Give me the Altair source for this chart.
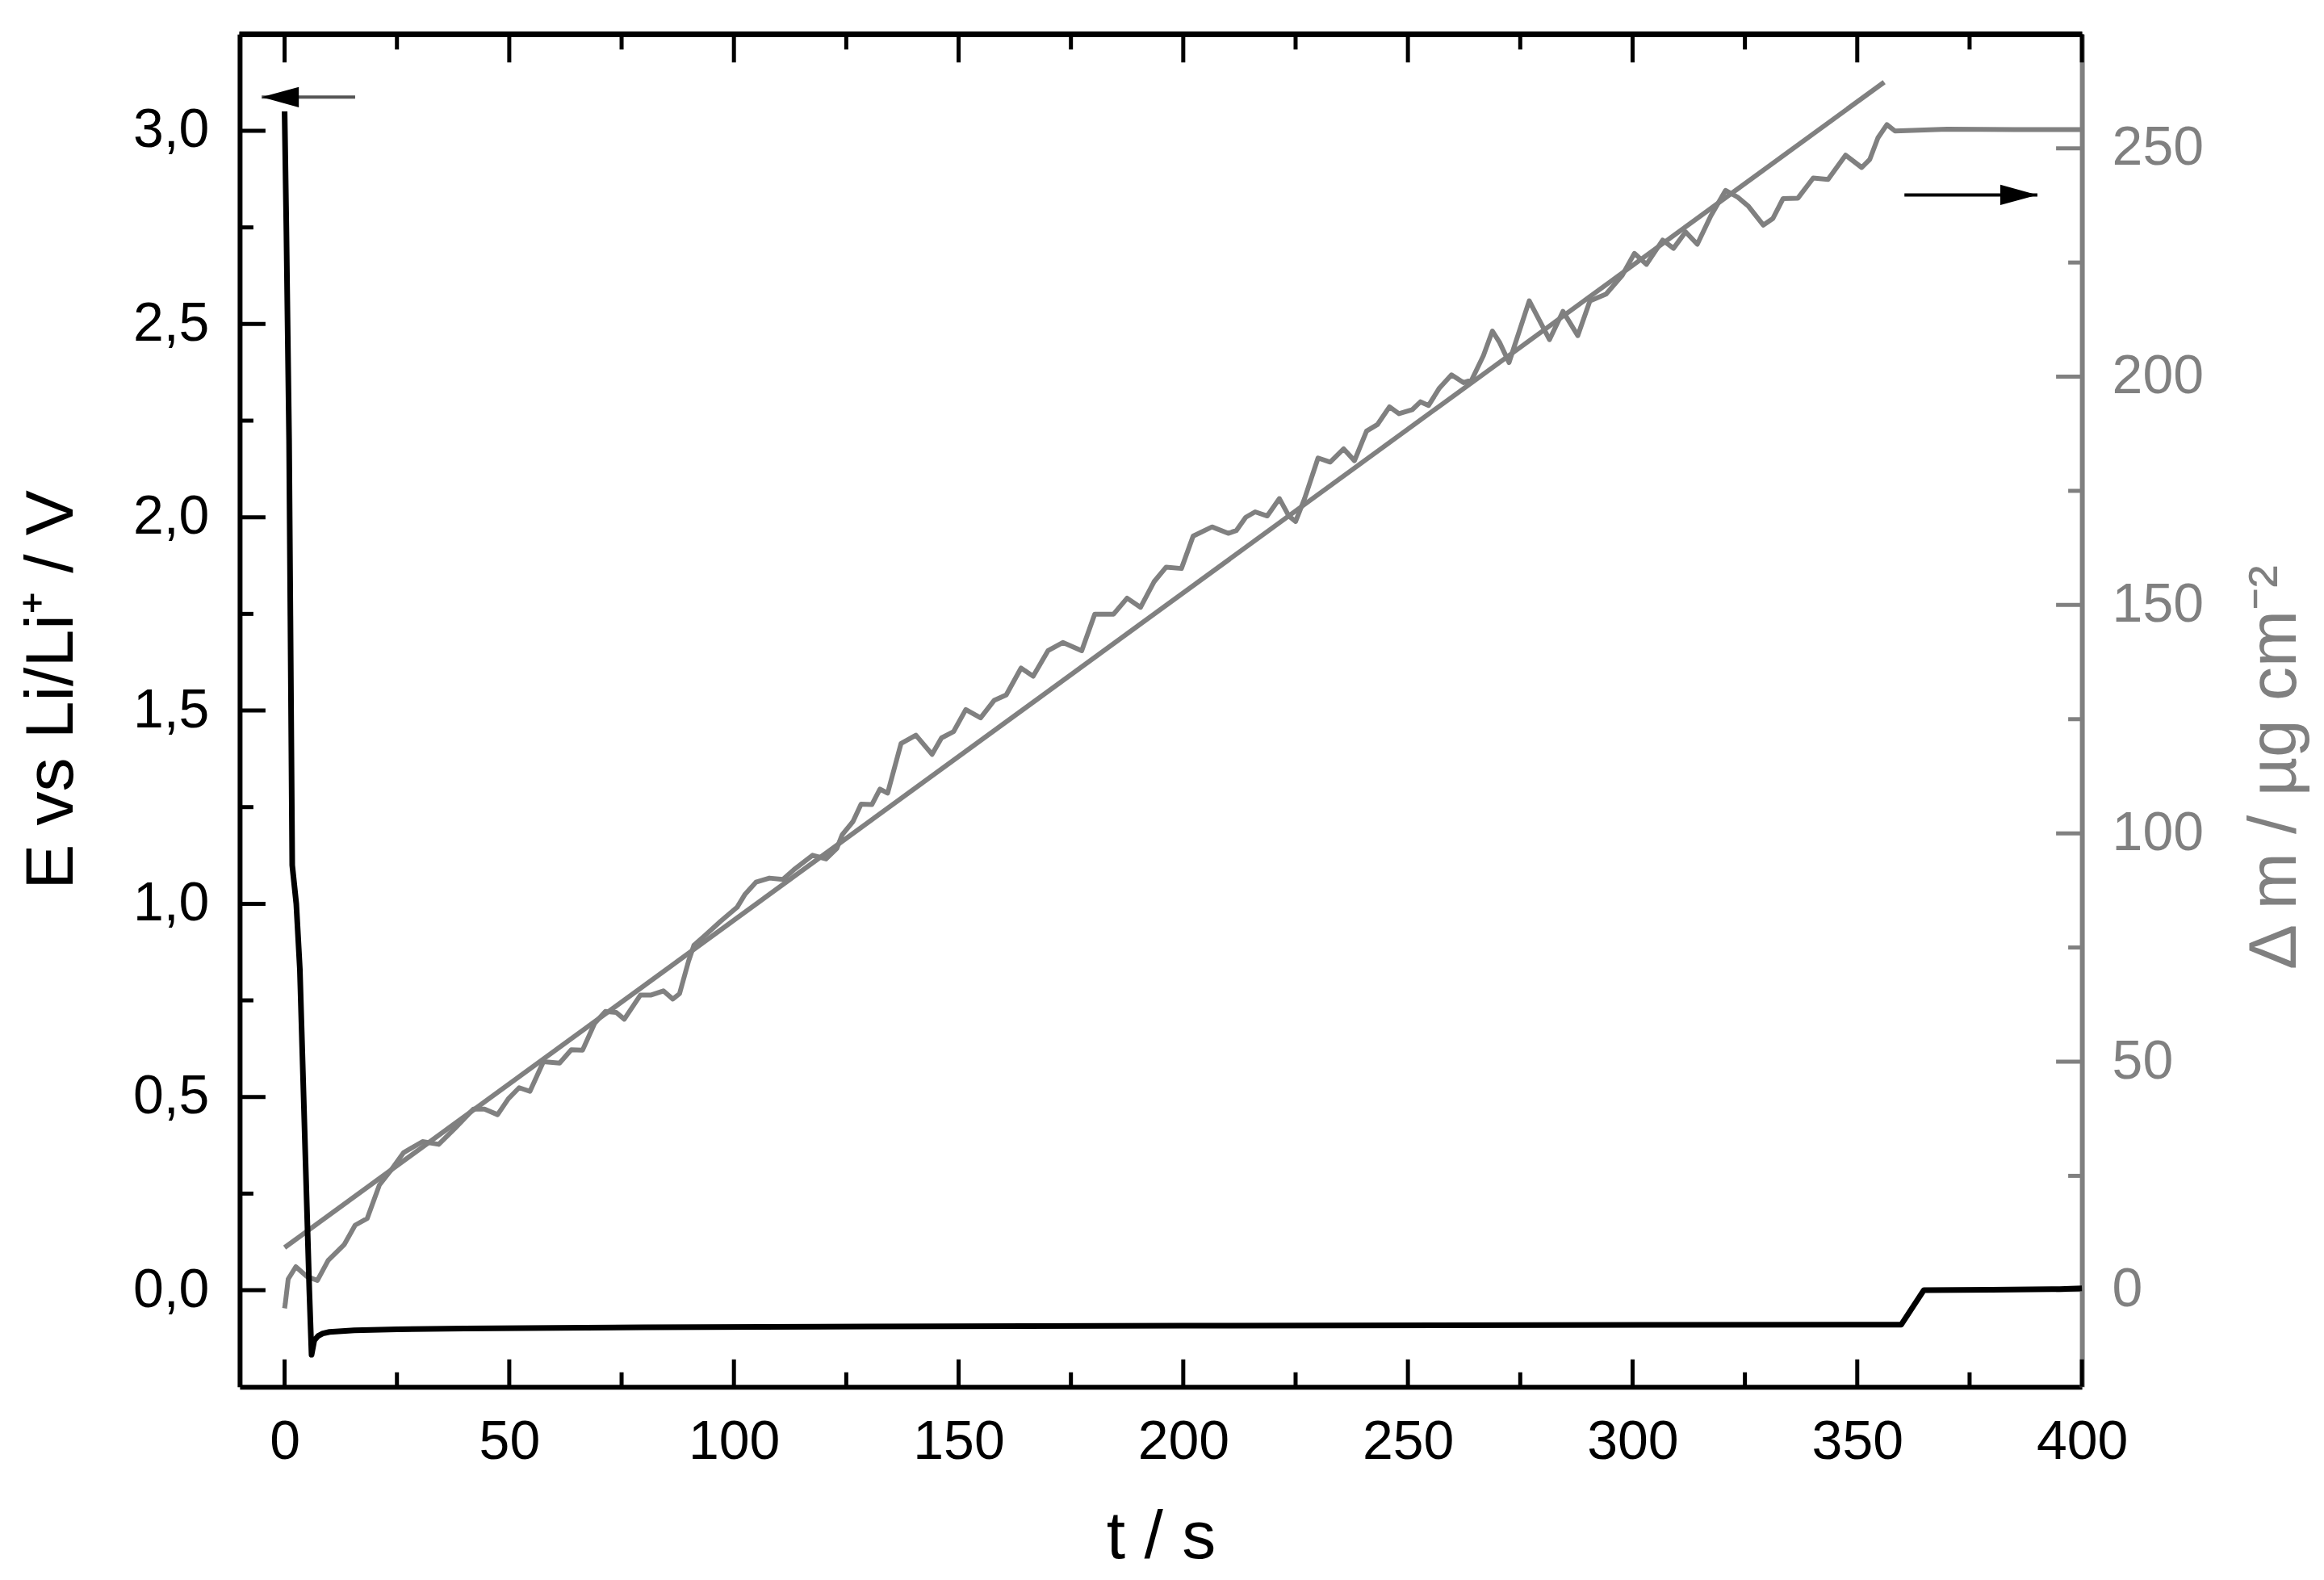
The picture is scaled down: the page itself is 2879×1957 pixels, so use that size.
import altair as alt
import pandas as pd

# ---------------- data ----------------
# potential E vs Li/Li+ (black, left axis)
E_T = [0.0, 0.4, 1.0, 1.7, 2.6, 3.4, 5.5, 6.0, 6.6, 7.5, 8.5, 10.0, 15.5, 25.0,
       40.0, 80.0, 130.0, 200.0, 280.0, 359.8, 364.8, 380.0, 395.0, 400.0]
E_V = [3.05, 2.74, 2.2, 1.1, 1.0, 0.83, 0.0, -0.167, -0.13, -0.118, -0.112, -0.108,
       -0.104, -0.101, -0.099, -0.096, -0.094, -0.092, -0.09, -0.089, 0.0, 0.001,
       0.003, 0.005]

# mass change (grey, right axis)
M_T = [0.0, 0.15, 0.8, 2.5, 4.9, 7.3, 9.7, 13.3, 15.7, 18.4,
       21.1, 23.5, 26.5, 30.7, 34.3, 37.9, 42.0, 44.5, 47.4, 49.8,
       52.2, 54.6, 57.6, 61.2, 63.8, 66.3, 69.0, 71.4, 73.8, 75.6,
       79.2, 81.6, 84.3, 86.4, 87.9, 89.9, 91.1, 93.5, 97.1, 100.7,
       102.5, 104.9, 107.9, 110.9, 113.3, 117.5, 120.5, 122.9, 124.1, 126.5,
       128.3, 130.7, 132.5, 134.2, 137.2, 140.5, 144.1, 146.2, 148.9, 151.6,
       154.9, 157.9, 160.6, 163.9, 166.6, 169.9, 173.2, 177.4, 180.3, 184.5,
       187.5, 190.5, 193.5, 196.2, 199.6, 202.2, 206.4, 210.0, 211.8, 213.9,
       216.0, 218.7, 221.4, 223.5, 225.0, 227.0, 230.0, 232.7, 235.7, 238.1,
       240.8, 243.2, 245.9, 248.0, 251.0, 252.8, 254.6, 257.0, 259.7, 262.4,
       264.2, 266.8, 268.8, 270.4, 272.5, 277.0, 281.5, 284.5, 287.8, 290.5,
       294.1, 297.7, 300.4, 303.1, 306.7, 309.1, 311.8, 314.4, 317.4, 320.7,
       323.4, 325.8, 329.1, 331.2, 333.5, 336.8, 340.2, 343.5, 347.4, 351.0,
       352.8, 354.6, 356.6, 358.4, 370.0, 385.0, 400.0]
M_V = [-4.0, -3.0, 2.4, 5.1, 3.0, 2.1, 6.5, 10.0, 14.2, 15.7,
       23.0, 26.0, 30.1, 32.5, 31.9, 35.4, 39.6, 39.6, 38.4, 41.9,
       44.3, 43.5, 50.0, 49.7, 52.6, 52.5, 58.4, 61.0, 60.8, 59.3,
       64.6, 64.6, 65.5, 63.7, 64.9, 72.0, 75.5, 77.6, 80.8, 83.8,
       86.7, 89.3, 90.2, 89.9, 92.0, 95.2, 94.4, 96.7, 99.7, 102.6,
       106.4, 106.3, 109.7, 108.8, 119.7, 121.5, 117.3, 120.9, 122.3, 127.1,
       125.3, 129.1, 130.3, 136.2, 134.4, 140.0, 141.8, 140.0, 148.0, 148.0,
       151.5, 149.5, 155.1, 158.3, 158.0, 165.1, 167.1, 165.7, 166.3, 169.2,
       170.4, 169.5, 173.3, 169.5, 168.3, 173.3, 182.2, 181.3, 184.2, 181.6,
       188.1, 189.5, 193.4, 191.9, 192.8, 194.5, 193.7, 197.5, 200.4, 198.7,
       199.3, 204.6, 210.0, 207.5, 203.1, 216.6, 208.1, 214.3, 209.0, 216.6,
       218.1, 222.2, 227.0, 224.6, 229.9, 228.1, 231.7, 229.0, 235.2, 240.8,
       239.3, 237.3, 233.2, 234.6, 239.0, 239.1, 243.5, 243.2, 248.5, 245.8,
       247.6, 252.3, 255.2, 253.8, 254.2, 254.1, 254.1]

# linear fit of the mass change
FIT_T = [0.0, 356.0]
FIT_M = [9.3, 264.5]

# tick values
X_MAJOR = [0, 50, 100, 150, 200, 250, 300, 350, 400]
X_MINOR = [25, 75, 125, 175, 225, 275, 325, 375]
E_MAJOR = [0.0, 0.5, 1.0, 1.5, 2.0, 2.5, 3.0]
E_MINOR = [0.25, 0.75, 1.25, 1.75, 2.25, 2.75]
M_MAJOR = [0, 50, 100, 150, 200, 250]
M_MINOR = [25, 75, 125, 175, 225]

# annotation arrows (data coordinates)
ARROW_E_T = [-5.1]     # tip
ARROW_E_T2 = [15.7]    # tail
ARROW_E_V = [3.087]
ARROW_M_T = [390.1]    # tip
ARROW_M_T2 = [360.5]   # tail
ARROW_M_V = [239.8]

# ---------------- styling ----------------
W, H = 2283, 1676
GRAY = "#808080"
FONT = "Liberation Sans"
LBL = 68
TTL = 84
AXW = 6

xs = alt.Scale(domain=[-10, 400], nice=False, zero=False)
ysE = alt.Scale(domain=[-0.25, 3.25], nice=False, zero=False)
ysM = alt.Scale(domain=[-21.2, 275], nice=False, zero=False)

x_axis = alt.Axis(
    orient="bottom", values=X_MAJOR, format="d", grid=False, ticks=False, tickSize=0,
    domain=True, domainColor="black", domainWidth=AXW,
    labelFont=FONT, labelFontSize=LBL, labelColor="black", labelPadding=35,
    labelFlush=False, labelOverlap=False,
    title="t / s", titleFont=FONT, titleFontSize=TTL, titleFontWeight="normal",
    titleColor="black", titleBaseline="alphabetic", titleAlign="center",
    titleX=W / 2, titleY=212,
)
e_axis = alt.Axis(
    orient="left", values=E_MAJOR,
    labelExpr="replace(format(datum.value, '.1f'), '.', ',')",
    grid=False, ticks=False, tickSize=0, domain=True, domainColor="black", domainWidth=AXW,
    labelFont=FONT, labelFontSize=LBL, labelColor="black", labelPadding=38,
    title="E vs Li/Li\u207a / V", titleFont=FONT, titleFontSize=TTL,
    titleFontWeight="normal", titleColor="black", titleAngle=270,
    titleBaseline="alphabetic", titleAlign="center", titleX=-207, titleY=812,
)
m_axis = alt.Axis(
    orient="right", values=M_MAJOR, format="d",
    grid=False, ticks=False, tickSize=0, domain=True, domainColor=GRAY, domainWidth=AXW,
    labelFont=FONT, labelFontSize=LBL, labelColor=GRAY, labelPadding=37,
    title="\u0394 m / \u00b5g cm\u207b\u00b2", titleFont=FONT, titleFontSize=TTL,
    titleFontWeight="normal", titleColor=GRAY, titleAngle=270,
    titleBaseline="alphabetic", titleAlign="center", titleX=264, titleY=908,
)

X = lambda f="t": alt.X(f"{f}:Q", scale=xs, axis=x_axis)
YE = lambda f="E": alt.Y(f"{f}:Q", scale=ysE, axis=e_axis)
YM = lambda f="m": alt.Y(f"{f}:Q", scale=ysM, axis=m_axis)

# ---------------- left-axis group (E) ----------------
dfE = pd.DataFrame({"t": E_T, "E": E_V})
lineE = alt.Chart(dfE).mark_line(color="black", strokeWidth=7, strokeJoin="round").encode(
    x=X(), y=YE())

dfXmaj = pd.DataFrame({"t": X_MAJOR})
dfXmin = pd.DataFrame({"t": X_MINOR})
tb_maj = alt.Chart(dfXmaj).mark_rule(color="black", strokeWidth=5).encode(
    x=X(), y=alt.value(H), y2=alt.value(H - 34))
tb_min = alt.Chart(dfXmin).mark_rule(color="black", strokeWidth=5).encode(
    x=X(), y=alt.value(H), y2=alt.value(H - 18))
tt_maj = alt.Chart(dfXmaj).mark_rule(color="black", strokeWidth=5).encode(
    x=X(), y=alt.value(0), y2=alt.value(35))
tt_min = alt.Chart(dfXmin).mark_rule(color="black", strokeWidth=5).encode(
    x=X(), y=alt.value(0), y2=alt.value(19))

dfEmaj = pd.DataFrame({"E": E_MAJOR})
dfEmin = pd.DataFrame({"E": E_MINOR})
tl_maj = alt.Chart(dfEmaj).mark_rule(color="black", strokeWidth=5).encode(
    y=YE(), x=alt.value(0), x2=alt.value(32))
tl_min = alt.Chart(dfEmin).mark_rule(color="black", strokeWidth=5).encode(
    y=YE(), x=alt.value(0), x2=alt.value(17))

top_frame = alt.Chart(dfXmaj).mark_rule(color="black", strokeWidth=AXW).encode(
    x=alt.value(0), x2=alt.value(W), y=alt.value(0))

dfAE = pd.DataFrame({"t": ARROW_E_T, "t2": ARROW_E_T2, "E": ARROW_E_V})
arrE_shaft = alt.Chart(dfAE).mark_rule(color="#555555", strokeWidth=4).encode(
    x=X(), x2="t2:Q", y=YE())
arrE_head = alt.Chart(dfAE).mark_point(
    shape="M0,0L2,-0.55L2,0.55Z", filled=True, color="black", size=2116,
    opacity=1, strokeWidth=0).encode(x=X(), y=YE())

groupE = alt.layer(tb_maj, tb_min, tt_maj, tt_min, tl_maj, tl_min, top_frame,
                   arrE_shaft, arrE_head, lineE)

# ---------------- right-axis group (mass) ----------------
dfM = pd.DataFrame({"t": M_T, "m": M_V})
lineM = alt.Chart(dfM).mark_line(color=GRAY, strokeWidth=6, strokeJoin="round").encode(
    x=X(), y=YM())
dfF = pd.DataFrame({"t": FIT_T, "m": FIT_M})
lineF = alt.Chart(dfF).mark_line(color=GRAY, strokeWidth=6).encode(x=X(), y=YM())

dfMmaj = pd.DataFrame({"m": M_MAJOR})
dfMmin = pd.DataFrame({"m": M_MINOR})
tr_maj = alt.Chart(dfMmaj).mark_rule(color=GRAY, strokeWidth=5).encode(
    y=YM(), x=alt.value(W), x2=alt.value(W - 32))
tr_min = alt.Chart(dfMmin).mark_rule(color=GRAY, strokeWidth=5).encode(
    y=YM(), x=alt.value(W), x2=alt.value(W - 17))

dfAM = pd.DataFrame({"t": ARROW_M_T, "t2": ARROW_M_T2, "m": ARROW_M_V})
arrM_shaft = alt.Chart(dfAM).mark_rule(color="black", strokeWidth=4).encode(
    x=X(), x2="t2:Q", y=YM())
arrM_head = alt.Chart(dfAM).mark_point(
    shape="M0,0L-2,-0.55L-2,0.55Z", filled=True, color="black", size=2116,
    opacity=1, strokeWidth=0).encode(x=X(), y=YM())

groupM = alt.layer(tr_maj, tr_min, lineF, lineM, arrM_shaft, arrM_head)

chart = (
    alt.layer(groupM, groupE)
    .resolve_scale(y="independent")
    .resolve_axis(y="independent")
    .properties(
        width=W, height=H,
        autosize=alt.AutoSizeParams(type="none"),
        padding={"left": 289, "top": 34, "right": 292, "bottom": 238},
        background="white",
    )
    .configure_view(stroke=None)
)

chart.save("out.html", embed_options={"renderer": "svg", "actions": False})
